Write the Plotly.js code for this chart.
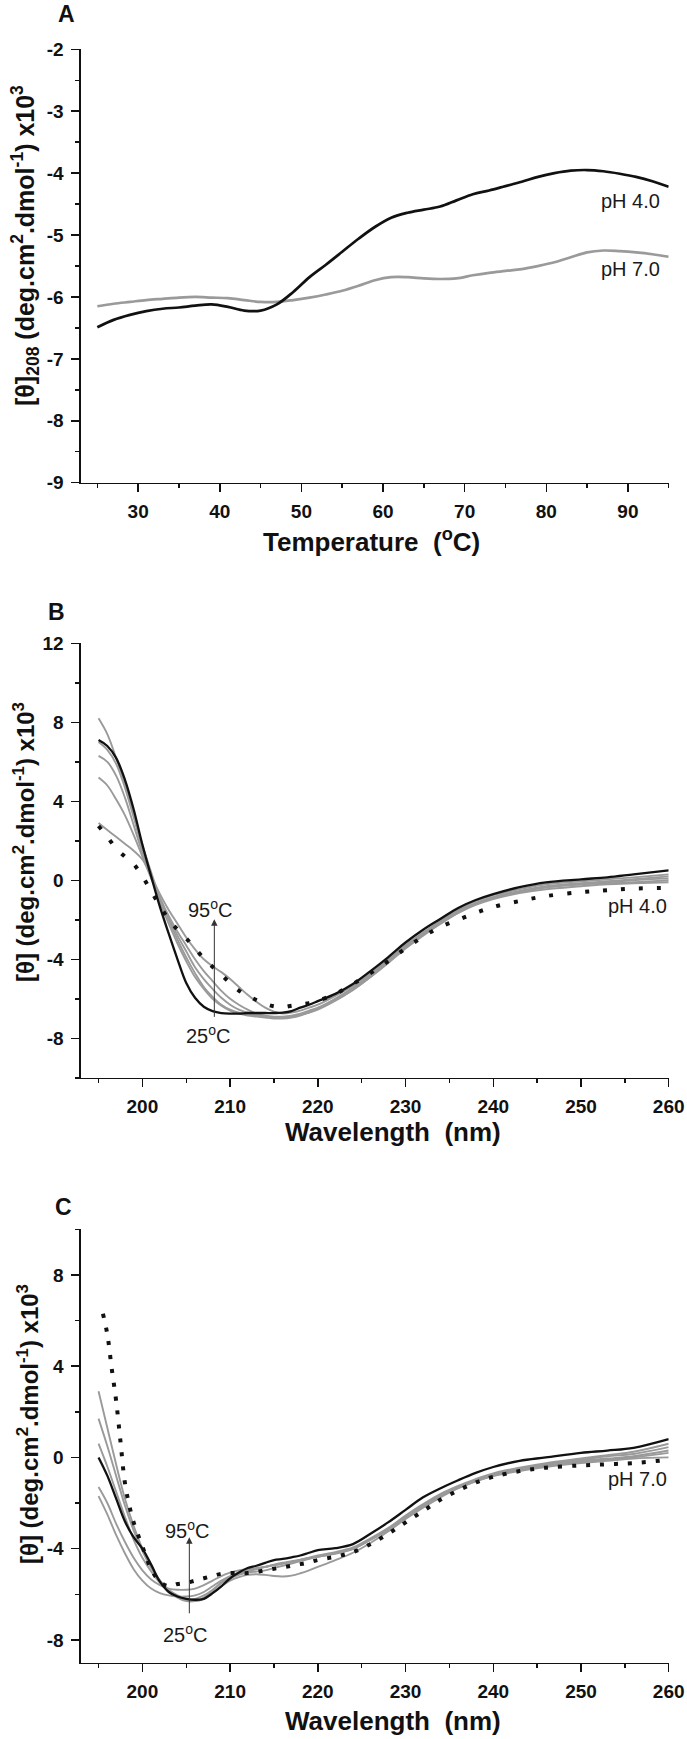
<!DOCTYPE html>
<html>
<head>
<meta charset="utf-8">
<script src="https://cdn.plot.ly/plotly-3.0.1.min.js"></script>
<style>html,body{margin:0;padding:0;background:#fff;}#chart{width:687px;height:1739px;}</style>
</head>
<body>
<div id="chart"></div>
<script>
// ---------- Panel A: thermal unfolding at 208 nm ----------
const temperature = [25,27,29,31,33,35,37,39,41,43,45,47,49,51,53,55,57,59,61,63,65,67,69,71,73,75,77,79,81,83,85,87,89,91,93,95];
const theta208_pH4 = [-6.49,-6.37,-6.29,-6.23,-6.19,-6.17,-6.14,-6.12,-6.16,-6.22,-6.22,-6.12,-5.92,-5.68,-5.48,-5.27,-5.06,-4.87,-4.72,-4.64,-4.59,-4.54,-4.44,-4.34,-4.28,-4.21,-4.14,-4.06,-4.00,-3.96,-3.95,-3.97,-4.01,-4.06,-4.13,-4.22];
const theta208_pH7 = [-6.15,-6.11,-6.08,-6.05,-6.03,-6.01,-6.00,-6.01,-6.02,-6.05,-6.08,-6.08,-6.05,-6.01,-5.96,-5.90,-5.82,-5.73,-5.68,-5.68,-5.70,-5.71,-5.70,-5.65,-5.61,-5.58,-5.55,-5.50,-5.44,-5.36,-5.28,-5.25,-5.26,-5.28,-5.31,-5.35];

// ---------- Panels B & C: spectra ----------
const wavelength = [195,196,197,198,199,200,201,202,203,204,205,206,207,208,209,210,211,212,213,214,215,216,217,218,219,220,222,224,226,228,230,232,234,236,238,240,243,246,250,253,256,260];

// Panel B (pH 4.0)
const B_black = [7.1,6.8,6.2,5.1,3.6,1.8,0.2,-1.35,-2.7,-4.0,-5.2,-5.95,-6.4,-6.62,-6.72,-6.75,-6.75,-6.72,-6.72,-6.72,-6.72,-6.7,-6.62,-6.45,-6.3,-6.12,-5.75,-5.25,-4.6,-3.9,-3.15,-2.5,-1.95,-1.4,-1.0,-0.7,-0.35,-0.1,0.05,0.15,0.3,0.5];
const B_dotted = [2.75,2.2,1.62,1.2,0.82,0.2,-0.55,-1.3,-1.98,-2.5,-2.94,-3.45,-3.95,-4.38,-4.79,-5.2,-5.58,-5.85,-6.06,-6.25,-6.38,-6.42,-6.35,-6.28,-6.22,-6.1,-5.75,-5.25,-4.7,-4.1,-3.45,-2.85,-2.35,-2.0,-1.65,-1.35,-1.05,-0.8,-0.6,-0.5,-0.42,-0.38];
const B_gray1 = [8.2,7.4,6.2,4.9,3.4,1.8,0.4,-0.9,-2.0,-3.0,-3.9,-4.7,-5.4,-5.9,-6.3,-6.55,-6.7,-6.8,-6.85,-6.9,-6.95,-6.95,-6.9,-6.8,-6.65,-6.5,-6.05,-5.55,-4.9,-4.2,-3.45,-2.8,-2.2,-1.65,-1.2,-0.9,-0.6,-0.35,-0.2,-0.1,0.0,0.1];
const B_gray2 = [7.0,6.6,5.9,4.7,3.2,1.6,0.2,-1.1,-2.2,-3.2,-4.1,-4.9,-5.5,-6.0,-6.35,-6.6,-6.75,-6.85,-6.9,-6.95,-7.0,-7.0,-6.95,-6.85,-6.7,-6.5,-6.0,-5.45,-4.8,-4.05,-3.3,-2.65,-2.05,-1.5,-1.05,-0.75,-0.45,-0.2,-0.05,0.05,0.15,0.3];
const B_gray3 = [6.3,6.0,5.3,4.2,2.8,1.4,0.2,-0.9,-1.9,-2.8,-3.6,-4.4,-5.0,-5.5,-5.95,-6.3,-6.55,-6.7,-6.8,-6.9,-6.95,-6.95,-6.9,-6.8,-6.7,-6.55,-6.1,-5.55,-4.9,-4.15,-3.4,-2.75,-2.15,-1.6,-1.15,-0.85,-0.55,-0.3,-0.15,-0.05,0.05,0.2];
const B_gray4 = [5.2,4.8,4.1,3.3,2.3,1.2,0.1,-0.9,-1.8,-2.6,-3.3,-4.0,-4.6,-5.1,-5.6,-6.0,-6.3,-6.55,-6.75,-6.85,-6.9,-6.9,-6.85,-6.75,-6.6,-6.45,-6.0,-5.45,-4.8,-4.1,-3.35,-2.7,-2.1,-1.55,-1.15,-0.85,-0.55,-0.35,-0.2,-0.15,-0.1,0.0];
const B_gray5 = [2.9,2.55,2.2,1.85,1.5,1.05,0.2,-0.7,-1.5,-2.2,-2.9,-3.5,-4.0,-4.35,-4.65,-5.0,-5.4,-5.8,-6.15,-6.45,-6.65,-6.75,-6.7,-6.6,-6.45,-6.3,-5.85,-5.35,-4.7,-4.0,-3.3,-2.7,-2.15,-1.65,-1.25,-0.95,-0.65,-0.45,-0.3,-0.2,-0.15,-0.1];

// Panel C (pH 7.0)
const C_black = [0.0,-0.8,-1.8,-2.8,-3.5,-4.0,-4.7,-5.45,-5.9,-6.1,-6.2,-6.24,-6.2,-5.95,-5.65,-5.3,-5.05,-4.85,-4.75,-4.62,-4.5,-4.45,-4.38,-4.3,-4.18,-4.07,-3.98,-3.8,-3.35,-2.85,-2.3,-1.75,-1.35,-1.0,-0.68,-0.42,-0.15,0.0,0.2,0.3,0.42,0.8];
const wavelengthC_dotted = [195.5,196,196.5,197,197.5,198,198.5,199,200,201,202,203,204,205,206,207,208,209,210,211,212,213,214,215,216,217,218,219,220,222,224,226,228,230,232,234,236,238,240,243,246,250,253,256,260];
const C_dotted = [6.3,5.4,3.9,2.5,0.7,-1.1,-2.1,-2.85,-3.9,-4.9,-5.45,-5.65,-5.55,-5.5,-5.4,-5.3,-5.2,-5.1,-5.07,-5.07,-5.07,-5.02,-4.95,-4.88,-4.82,-4.75,-4.68,-4.6,-4.5,-4.35,-4.15,-3.8,-3.35,-2.85,-2.35,-1.85,-1.45,-1.1,-0.85,-0.6,-0.45,-0.35,-0.3,-0.25,-0.1];
const C_gray1 = [2.9,1.3,-0.3,-1.8,-3.0,-4.0,-4.8,-5.4,-5.85,-6.15,-6.3,-6.3,-6.15,-5.85,-5.5,-5.25,-5.1,-5.0,-4.9,-4.8,-4.7,-4.62,-4.55,-4.48,-4.4,-4.3,-4.15,-3.95,-3.55,-3.1,-2.55,-2.05,-1.6,-1.25,-0.95,-0.7,-0.45,-0.25,-0.05,0.1,0.25,0.6];
const C_gray2 = [1.7,0.5,-0.8,-2.1,-3.2,-4.1,-4.85,-5.4,-5.8,-6.05,-6.2,-6.2,-6.05,-5.8,-5.5,-5.3,-5.15,-5.05,-5.0,-4.95,-4.85,-4.75,-4.65,-4.55,-4.45,-4.35,-4.2,-4.0,-3.6,-3.15,-2.6,-2.1,-1.65,-1.3,-1.0,-0.75,-0.5,-0.3,-0.1,0.05,0.15,0.45];
const C_gray3 = [0.6,-0.4,-1.5,-2.6,-3.6,-4.4,-5.0,-5.5,-5.85,-6.1,-6.25,-6.3,-6.2,-5.95,-5.65,-5.4,-5.25,-5.15,-5.12,-5.15,-5.2,-5.22,-5.18,-5.08,-4.95,-4.8,-4.5,-4.18,-3.75,-3.25,-2.7,-2.2,-1.75,-1.35,-1.05,-0.8,-0.55,-0.35,-0.15,-0.05,0.05,0.3];
const C_gray4 = [-1.3,-2.0,-2.9,-3.7,-4.4,-4.95,-5.35,-5.6,-5.75,-5.8,-5.8,-5.75,-5.6,-5.4,-5.2,-5.05,-4.95,-4.9,-4.85,-4.8,-4.72,-4.65,-4.58,-4.5,-4.42,-4.35,-4.2,-4.0,-3.6,-3.15,-2.6,-2.1,-1.65,-1.3,-1.0,-0.78,-0.55,-0.38,-0.2,-0.1,0.0,0.2];
const C_gray5 = [-1.7,-2.5,-3.4,-4.2,-4.9,-5.4,-5.75,-5.95,-6.05,-6.1,-6.1,-6.05,-5.9,-5.65,-5.4,-5.2,-5.05,-4.95,-4.88,-4.8,-4.72,-4.65,-4.58,-4.5,-4.42,-4.35,-4.22,-4.02,-3.62,-3.18,-2.65,-2.15,-1.7,-1.35,-1.05,-0.82,-0.6,-0.42,-0.25,-0.15,-0.05,0.0];

// Tick labels
const xTicksA = [30,40,50,60,70,80,90];
const yTicksA = [-9,-8,-7,-6,-5,-4,-3,-2];
const xTicksBC = [200,210,220,230,240,250,260];
const yTicksB = [-8,-4,0,4,8,12];
const yTicksC = [-8,-4,0,4,8];

// ---------- Layout helpers ----------
const W = 687, H = 1739;
const FONT = 'Liberation Sans, Arial, Helvetica, sans-serif';
const INK = '#111111';
const GRAY = '#9a9a9a';
const px = v => v / W;
const py = v => 1 - v / H;

const xDomain = [px(81), px(668.7)];
const domA = [py(482.7), py(49.3)];
const domB = [py(1077.8), py(643.3)];
const domC = [py(1662.7), py(1229.3)];

function axis(opts) {
  return Object.assign({
    showline: true, linecolor: INK, linewidth: 1.6,
    showgrid: false, zeroline: false,
    ticks: 'outside', ticklen: 8, tickwidth: 1.5, tickcolor: INK,
    tickfont: {family: FONT, size: 19, weight: 'bold', color: INK},
    tickmode: 'array',
    fixedrange: true
  }, opts);
}
function minor(dt) {
  return {ticks: 'outside', ticklen: 4, tickwidth: 1.5, tickcolor: INK, dtick: dt, tick0: 0, showgrid: false};
}

const traces = [
  {x: temperature, y: theta208_pH7, xaxis: 'x', yaxis: 'y', mode: 'lines', line: {color: GRAY, width: 2.7, shape: 'spline'}},
  {x: temperature, y: theta208_pH4, xaxis: 'x', yaxis: 'y', mode: 'lines', line: {color: INK, width: 2.7, shape: 'spline'}},

  {x: wavelength, y: B_gray1, xaxis: 'x2', yaxis: 'y2', mode: 'lines', line: {color: GRAY, width: 1.9, shape: 'spline'}},
  {x: wavelength, y: B_gray2, xaxis: 'x2', yaxis: 'y2', mode: 'lines', line: {color: GRAY, width: 1.9, shape: 'spline'}},
  {x: wavelength, y: B_gray3, xaxis: 'x2', yaxis: 'y2', mode: 'lines', line: {color: GRAY, width: 1.9, shape: 'spline'}},
  {x: wavelength, y: B_gray4, xaxis: 'x2', yaxis: 'y2', mode: 'lines', line: {color: GRAY, width: 1.9, shape: 'spline'}},
  {x: wavelength, y: B_gray5, xaxis: 'x2', yaxis: 'y2', mode: 'lines', line: {color: GRAY, width: 1.9, shape: 'spline'}},
  {x: wavelength, y: B_black, xaxis: 'x2', yaxis: 'y2', mode: 'lines', line: {color: INK, width: 2.3, shape: 'spline'}},
  {x: wavelength, y: B_dotted, xaxis: 'x2', yaxis: 'y2', mode: 'lines', line: {color: INK, width: 4, dash: '4px,14px', shape: 'spline'}},

  {x: wavelength, y: C_gray1, xaxis: 'x3', yaxis: 'y3', mode: 'lines', line: {color: GRAY, width: 1.9, shape: 'spline'}},
  {x: wavelength, y: C_gray2, xaxis: 'x3', yaxis: 'y3', mode: 'lines', line: {color: GRAY, width: 1.9, shape: 'spline'}},
  {x: wavelength, y: C_gray3, xaxis: 'x3', yaxis: 'y3', mode: 'lines', line: {color: GRAY, width: 1.9, shape: 'spline'}},
  {x: wavelength, y: C_gray4, xaxis: 'x3', yaxis: 'y3', mode: 'lines', line: {color: GRAY, width: 1.9, shape: 'spline'}},
  {x: wavelength, y: C_gray5, xaxis: 'x3', yaxis: 'y3', mode: 'lines', line: {color: GRAY, width: 1.9, shape: 'spline'}},
  {x: wavelength, y: C_black, xaxis: 'x3', yaxis: 'y3', mode: 'lines', line: {color: INK, width: 2.3, shape: 'spline'}},
  {x: wavelengthC_dotted, y: C_dotted, xaxis: 'x3', yaxis: 'y3', mode: 'lines', line: {color: INK, width: 4, dash: '4px,10px', shape: 'spline'}}
];

const boldFont = (s) => ({family: FONT, size: s, weight: 'bold', color: INK});
const regFont = (s) => ({family: FONT, size: s, color: '#1a1a1a'});
function paperText(text, x, y, font, extra) {
  return Object.assign({text: text, xref: 'paper', yref: 'paper', x: px(x), y: py(y), xanchor: 'center', yanchor: 'middle', showarrow: false, font: font}, extra || {});
}
function dataText(text, xr, yr, x, y, xanchor) {
  return {text: text, xref: xr, yref: yr, x: x, y: y, xanchor: xanchor, yanchor: 'middle', showarrow: false, font: regFont(20)};
}
// vertical arrow from y0 up to the tip at y1
function arrow(xr, yr, x, y0, y1) {
  return {text: '', xref: xr, yref: yr, x: x, y: y1, axref: xr, ayref: yr, ax: x, ay: y0,
          showarrow: true, arrowhead: 2, arrowsize: 1.3, arrowwidth: 1, arrowcolor: '#333', standoff: 0, startstandoff: 0};
}

const annotations = [
  paperText('A', 66.5, 14, boldFont(23)),
  paperText('B', 56.7, 611.7, boldFont(23)),
  paperText('C', 63.3, 1206.7, boldFont(23)),

  paperText('[θ]<sub>208</sub> (deg.cm<sup>2</sup>.dmol<sup>-1</sup>) x10<sup>3</sup>', 25, 246, boldFont(25), {textangle: -90}),
  paperText('[θ] (deg.cm<sup>2</sup>.dmol<sup>-1</sup>) x10<sup>3</sup>', 24, 842, boldFont(24), {textangle: -90}),
  paperText('[θ] (deg.cm<sup>2</sup>.dmol<sup>-1</sup>) x10<sup>3</sup>', 28, 1424, boldFont(24), {textangle: -90}),

  paperText('Temperature\u00a0\u00a0(<sup>o</sup>C)', 371, 540, boldFont(26)),
  paperText('Wavelength\u00a0\u00a0(nm)', 393, 1132, boldFont(26)),
  paperText('Wavelength\u00a0\u00a0(nm)', 393, 1721, boldFont(26)),

  dataText('pH 4.0', 'x', 'y', 94.2, -4.45, 'right'),
  dataText('pH 7.0', 'x', 'y', 94.2, -5.55, 'right'),
  dataText('pH 4.0', 'x2', 'y2', 260, -1.31, 'right'),
  dataText('pH 7.0', 'x3', 'y3', 260, -0.94, 'right'),

  arrow('x2', 'y2', 208.2, -6.99, -1.97),
  dataText('95<sup>o</sup>C', 'x2', 'y2', 207.8, -1.45, 'center'),
  dataText('25<sup>o</sup>C', 'x2', 'y2', 207.5, -7.83, 'center'),

  arrow('x3', 'y3', 205.35, -6.9, -3.5),
  dataText('95<sup>o</sup>C', 'x3', 'y3', 205.1, -3.15, 'center'),
  dataText('25<sup>o</sup>C', 'x3', 'y3', 204.9, -7.71, 'center')
];

const layout = {
  width: W, height: H,
  margin: {l: 0, r: 0, t: 0, b: 0, pad: 0},
  paper_bgcolor: '#ffffff', plot_bgcolor: '#ffffff',
  showlegend: false,
  font: {family: FONT, color: INK},
  xaxis: axis({domain: xDomain, anchor: 'y', range: [23, 95], tickvals: xTicksA, ticktext: xTicksA.map(String), minor: minor(5), ticklabelstandoff: 3}),
  yaxis: axis({domain: domA, anchor: 'x', range: [-9, -2], tickvals: yTicksA, ticktext: yTicksA.map(String), minor: minor(0.5), ticklabelstandoff: 4}),
  xaxis2: axis({domain: xDomain, anchor: 'y2', range: [193, 260], tickvals: xTicksBC, ticktext: xTicksBC.map(String), minor: minor(5), ticklabelstandoff: 3}),
  yaxis2: axis({domain: domB, anchor: 'x2', range: [-10, 12], tickvals: yTicksB, ticktext: yTicksB.map(String), minor: minor(2), ticklabelstandoff: 4}),
  xaxis3: axis({domain: xDomain, anchor: 'y3', range: [193, 260], tickvals: xTicksBC, ticktext: xTicksBC.map(String), minor: minor(5), ticklabelstandoff: 3}),
  yaxis3: axis({domain: domC, anchor: 'x3', range: [-9, 10], tickvals: yTicksC, ticktext: yTicksC.map(String), minor: minor(2), ticklabelstandoff: 4}),
  annotations: annotations
};

Plotly.newPlot('chart', traces, layout, {displayModeBar: false, staticPlot: true});
</script>
</body>
</html>
